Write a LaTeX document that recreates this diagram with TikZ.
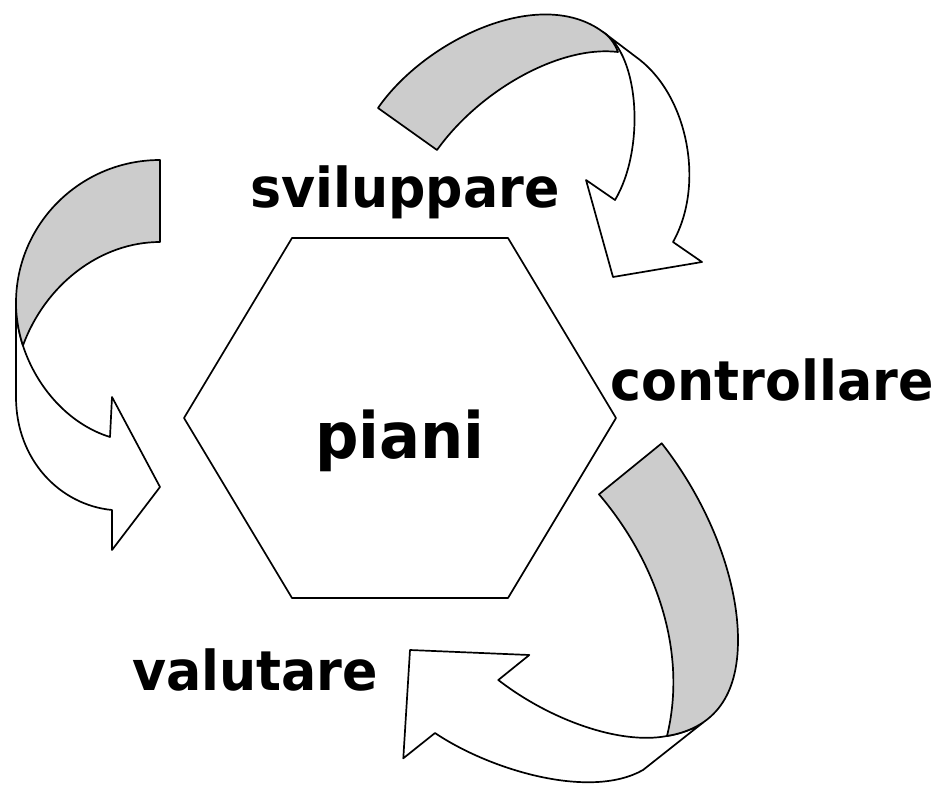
\documentclass[tikz,border=0pt]{standalone}
\usepackage{fontspec}
\newfontfamily\lblfont{DejaVu Sans Bold}[FakeStretch=0.95]
\begin{document}
\begin{tikzpicture}[x=1pt,y=-1pt,
  outl/.style={draw=black,line width=1.7pt,line join=round},
  backside/.style={outl,fill=black!20},
  frontside/.style={outl,fill=white},
  lbl/.style={font=\lblfont\fontsize{55}{60}\selectfont,anchor=base,inner sep=0pt},
  big/.style={font=\lblfont\fontsize{64}{70}\selectfont,anchor=base,inner sep=0pt}]
\useasboundingbox[fill=white] (0,0) rectangle (942,792);

% hexagon
\draw[outl] (184,418) -- (292,238) -- (508,238) -- (616,418) -- (508,598) -- (292,598) -- cycle;

% top arrow
\draw[frontside] (603,32) -- (640,60) .. controls (688,98) and (705,185) .. (673,242)
  -- (702,262) -- (613,277) -- (586,180) -- (615,200)
  .. controls (645,150) and (640,55) .. (603,32) -- cycle;
\draw[backside] (378,108) .. controls (425,40) and (540,-15) .. (603,32)
  .. controls (609,36) and (614.6,43) .. (618,52)
  .. controls (560,45) and (480,90) .. (437,150) -- cycle;

% left arrow
\draw[frontside] (16,303) -- (16,397) .. controls (16,460) and (60,505) .. (112,510)
  -- (112,550) -- (160,487) -- (112,397) -- (110,437)
  .. controls (68.75,424.25) and (36.5,387.3) .. (22.95,345.6)
  .. controls (18.44,331.7) and (16,317.25) .. (16,303) -- cycle;
\draw[backside] (160,160) -- (160,242) .. controls (100,242) and (45,285) .. (22.95,345.6)
  .. controls (18.44,331.7) and (16,317.25) .. (16,303)
  .. controls (16,224) and (80.5,160) .. (160,160) -- cycle;

% bottom arrow
\draw[frontside] (703.5,722.2) .. controls (693.55,728.95) and (681.4,733.6) .. (667,736)
  .. controls (620,745) and (550,720) .. (498.3,680)
  -- (529.3,655) -- (410,650) -- (403.3,758.3) -- (435,733)
  .. controls (490,770) and (590,800) .. (643,770) -- cycle;
\draw[backside] (661.7,443.3) .. controls (710,505) and (738,580) .. (738,640)
  .. controls (738,695) and (715,728) .. (667,736)
  .. controls (688,650) and (655,560) .. (599,494.3) -- cycle;

% labels
\node[lbl] (svil) at (405,207) {sviluppare};
\node[lbl] (contr) at (772,400) {controllare};
\node[lbl] (valut) at (255,690) {valutare};
\node[big] (piani) at (400,458) {piani};
\end{tikzpicture}
\end{document}
